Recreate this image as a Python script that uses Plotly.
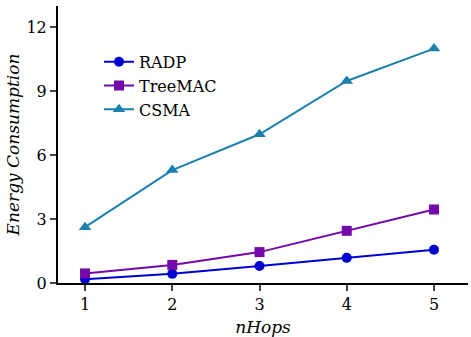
import plotly.graph_objects as go

hops = [1, 2, 3, 4, 5]
radp = [0.18, 0.43, 0.8, 1.18, 1.56]
treemac = [0.45, 0.85, 1.45, 2.45, 3.45]
csma = [2.62, 5.3, 6.98, 9.48, 11.0]
y_ticks = [0, 3, 6, 9, 12]

ff = "DejaVu Serif"

fig = go.Figure()
fig.add_trace(go.Scatter(x=hops, y=radp, name="RADP", mode="lines+markers",
                         line=dict(color="#0000d0", width=2),
                         marker=dict(symbol="circle", size=10, color="#0000d0")))
fig.add_trace(go.Scatter(x=hops, y=treemac, name="TreeMAC", mode="lines+markers",
                         line=dict(color="#7209a8", width=2),
                         marker=dict(symbol="square", size=10, color="#7209a8")))
fig.add_trace(go.Scatter(x=hops, y=csma, name="CSMA", mode="lines+markers",
                         line=dict(color="#1b80ad", width=2),
                         marker=dict(symbol="triangle-up", size=11, color="#1b80ad")))

fig.update_layout(
    width=471, height=337,
    margin=dict(l=58, r=3, t=6, b=54, autoexpand=False),
    paper_bgcolor="white", plot_bgcolor="white",
    font=dict(family=ff, size=16, color="black"),
    showlegend=True,
    legend=dict(x=0.1, y=0.86, xanchor="left", yanchor="top",
                font=dict(family=ff, size=16, color="black"),
                bgcolor="rgba(0,0,0,0)", itemwidth=30),
    xaxis=dict(range=[0.69, 5.39], tickvals=hops, ticks="outside", ticklen=6,
               tickwidth=2, showline=True, linewidth=2, linecolor="black",
               showgrid=False, zeroline=False, automargin=False,
               tickfont=dict(family=ff, size=16, color="black"),
               title=dict(text="<i>nHops</i>", font=dict(family=ff, size=17), standoff=8)),
    yaxis=dict(range=[0, 13], tickvals=y_ticks, ticks="outside", ticklen=6,
               tickwidth=2, showline=True, linewidth=2, linecolor="black",
               showgrid=False, zeroline=False, automargin=False,
               tickfont=dict(family=ff, size=16, color="black"),
               title=dict(text="<i>Energy Consumption</i>", font=dict(family=ff, size=17), standoff=2)),
)

fig.write_html("out.html")
